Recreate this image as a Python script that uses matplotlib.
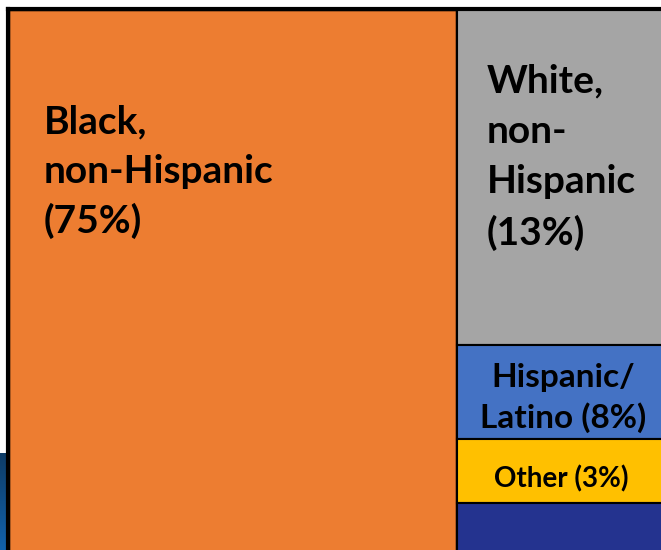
import numpy as np
import matplotlib.pyplot as plt
from matplotlib.patches import Rectangle

# shares of the group (percent) as labelled on the tiles
groups = ["Black,\nnon-Hispanic", "White,\nnon-\nHispanic", "Hispanic/\nLatino", "Other", ""]
shares = [75, 13, 8, 3, 1]
colors = ["#ED7D31", "#A5A5A5", "#4472C4", "#FFC000", "#24338F"]

# tile layout in screen pixels (the screenshot is cropped, not to scale)
W, H = 661, 550
left, top, split = 8, 9, 457
right_stack = [9, 345, 439, 503, 560]  # edges of the right-hand column

fig = plt.figure(figsize=(6.61, 5.5), dpi=100)
ax = fig.add_axes([0, 0, 1, 1])
ax.set_xlim(0, W)
ax.set_ylim(H, 0)
ax.axis("off")

# bit of the slide background showing at the lower left
grad = np.linspace(0, 1, 100).reshape(-1, 1)
ax.imshow(grad, cmap=plt.matplotlib.colors.LinearSegmentedColormap.from_list(
    "bg", ["#0E3C66", "#1262AC"]), extent=[0, left, H, 453], aspect="auto", zorder=0)

font = ["Lato", "DejaVu Sans"]

# big tile
ax.add_patch(Rectangle((left, top), split - left, H + 20 - top, facecolor=colors[0],
                       edgecolor="black", linewidth=2.5, zorder=1))
ax.text(44, 172, f"{groups[0]}\n({shares[0]}%)", fontsize=28, fontweight="bold",
        family=font, va="center", ha="left", linespacing=1.48, zorder=3)

# right column
for i in range(1, 5):
    y0, y1 = right_stack[i - 1], right_stack[i]
    ax.add_patch(Rectangle((split, y0), W + 20 - split, y1 - y0, facecolor=colors[i],
                           edgecolor="black", linewidth=1.5, zorder=2))

ax.text(487, 157, f"{groups[1]}\n({shares[1]}%)", fontsize=28, fontweight="bold",
        family=font, va="center", ha="left", linespacing=1.52, zorder=3)
ax.text(563, 398, f"{groups[2]} ({shares[2]}%)",
        fontsize=24, fontweight="bold", family=font, va="center", ha="center",
        linespacing=1.4, zorder=3)
ax.text(561, 479, f"{groups[3]} ({shares[3]}%)",
        fontsize=20, fontweight="bold", family=font, va="center", ha="center", zorder=3)

# outer frame top / left edges
ax.plot([left, W], [top, top], color="black", linewidth=3, zorder=4)
ax.plot([left, left], [top, H], color="black", linewidth=3, zorder=4)

fig.savefig("out.png", dpi=100)
